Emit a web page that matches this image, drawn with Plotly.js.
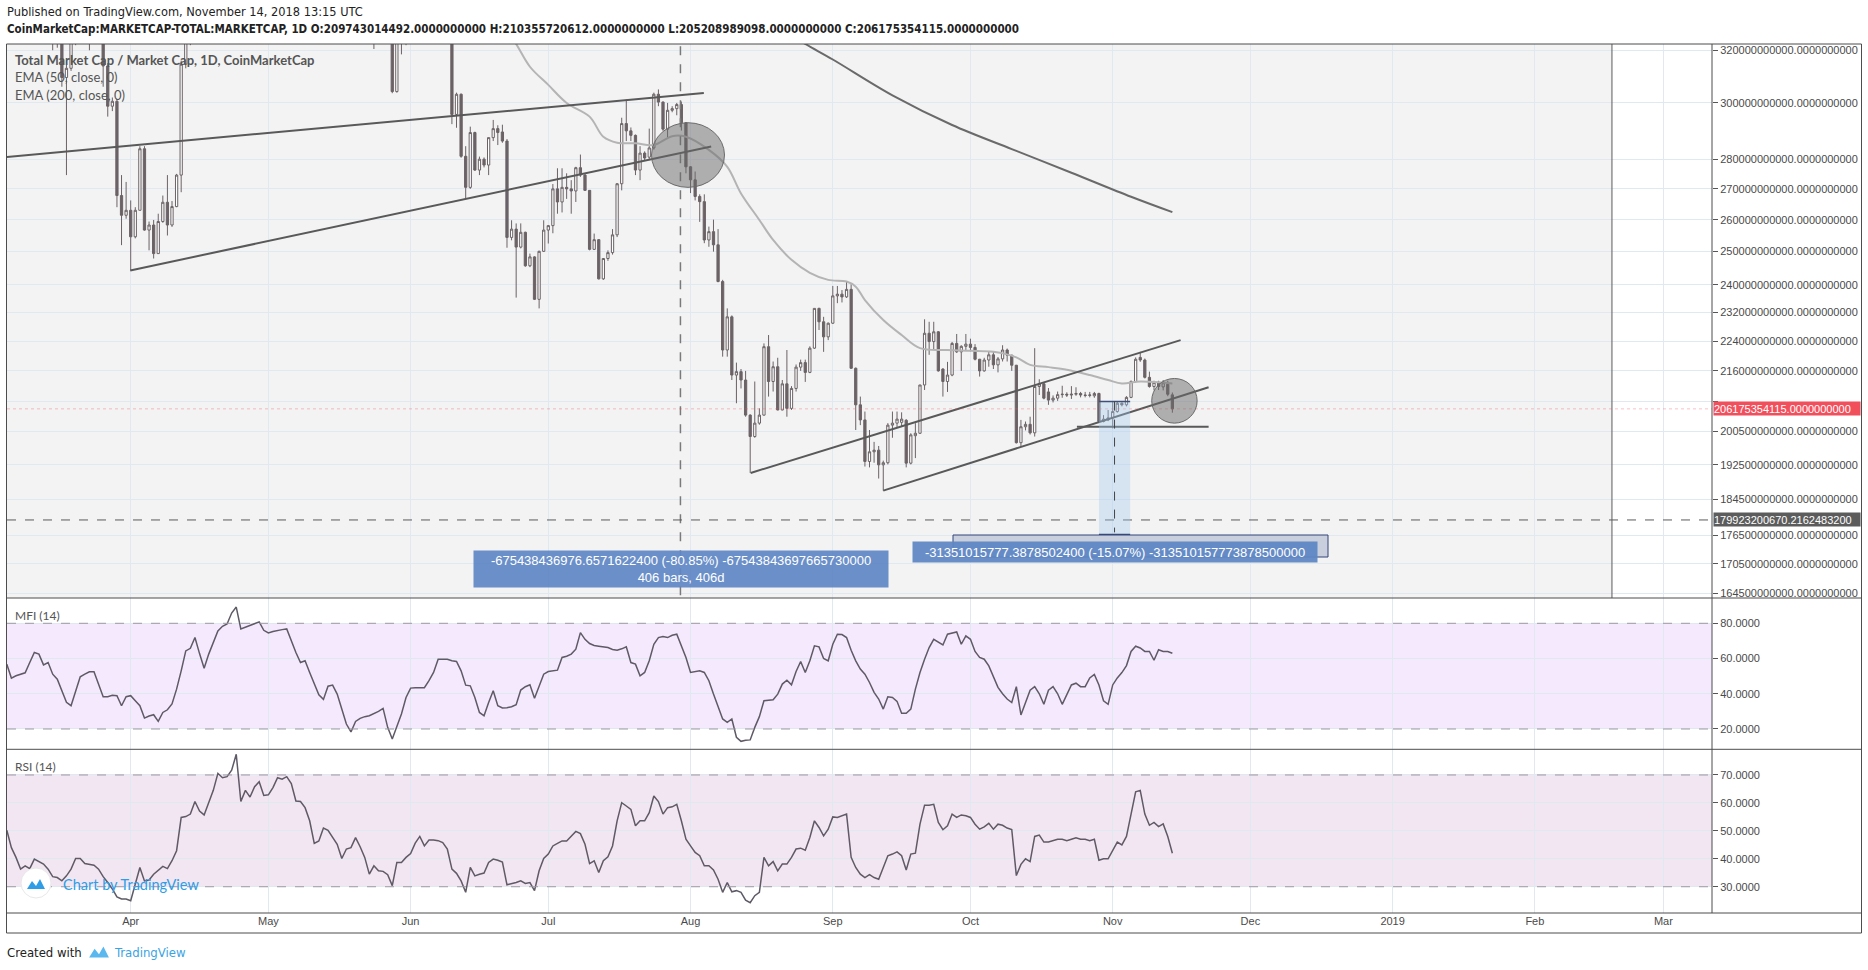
<!DOCTYPE html>
<html><head><meta charset="utf-8">
<script src="https://cdn.plot.ly/plotly-3.0.1.min.js"></script>
<style>html,body{margin:0;padding:0;background:#fff;}#chart{width:1868px;height:970px;}</style>
</head><body><div id="chart"></div>
<script>
// ---------- DATA (values in billions of USD, daily from 2018-03-05) ----------
const startDay = '2018-03-05';
const openB = [440,452,430,398,384,378,362,380,372,370,
345,335,338,309.5,313,335,347,350,335,342,
338,336,313.9,298.8,300.6,267.8,261.4,263,254.6,263,
283.6,256.7,258.3,249.4,259.4,265.6,258.3,264.2,274.6,314.6,
325,330,348,338,336,358,375,395,398,402,
415,438,398,415,408,422,432,420,410,425,
445,448,458,445,430,422,430,412,380,388,
402,400,388,385,375,382,380,396,385,365,
340,345,338,336,335,304.2,328,325,335,340,
345,350,335,343,345,344,340,338,295.8,303.2,
281,270.5,289.3,276.3,280,278,287.5,290.7,289.5,286.3,
254.4,257,251.4,256,245.7,248.4,235.8,250.1,256.7,258.1,
270,265.7,270.5,270,269.3,277.1,274.6,269.5,250.7,253.7,
241.8,247.9,249.7,255.2,271.7,292.5,289.9,288.3,276.3,282.1,
280.7,283.9,303.2,300.3,290.5,297.3,297.9,299.4,292.8,277.4,
273,267.5,265.8,253.6,256.2,252.1,241,221.6,230.8,214.9,
215.8,213.6,204.6,199.3,202.6,204.6,222.5,213.2,217.1,205.9,
212.6,206.3,211.4,217,218.2,215.6,222.1,233.2,229.4,225.2,
229,236.8,237.3,236.5,238.7,216.7,207.2,203.4,193.3,195.6,
196,192.5,193,202.1,202.6,202.8,203.3,192.9,199.5,200.1,
212.3,226.2,223.9,226.6,216.5,213.2,214.9,223.4,221.1,222.6,
223.2,222.3,219.1,216,218.9,220.3,217.6,219.2,221.6,220.2,
217.5,197.8,201.7,202.3,200.2,211.9,212.6,210.5,208.4,208.9,
209.8,209.9,209.7,209.9,210.1,209.7,209.6,209.5,210.1,203,
203.4,203.9,205.5,207.6,207.2,209.1,213.2,219.6,218.9,214.3,
211.9,213,211.8,212.5,209.743014492];
const highB = [458,453,434,405,390,385,385,392,380,373,
352,345,342,316,342,350,358,355,345,352,
345,338,315,302,301.5,274.6,272.3,266.2,264,284.5,
284.5,259.4,259.9,261.9,267.8,274.6,266,275,316,335,
337,350,350,347,360,378,398,405,410,418,
440,440,418,425,425,435,434,422,428,448,
452,462,460,447,436,432,432,414,392,405,
410,403,392,390,385,388,398,398,387,366,
350,348,345,340,337,331,334,338,342,348,
355,352,346,348,350,347,344,339,303.8,303.5,
284.5,291.4,289.6,280.9,280.6,287.5,293.8,291.9,292.1,287,
259.8,258.8,258.8,256.2,249.4,248.6,250.3,259.8,258.3,271.6,
276.9,276.9,275.2,272.9,277.4,281.6,275.2,269.6,255.6,253.9,
248,250.4,257,271.9,294.6,301.2,291.1,288.6,284.5,282.7,
290.7,303.8,305,300.6,300,298.8,300,300.5,293,277.6,
275.8,268.2,268.2,257.8,260,257,241.5,233.2,231.2,218.2,
216.5,216,204.8,213.2,206.3,223.4,225.7,218.5,219.5,213.6,
221.6,212,217.7,219,219,222.6,233.2,233.4,230.8,229.2,
239.7,239.7,238.5,241,240.2,216.9,209.3,205.5,200.9,198,
197,193.5,202.6,205.5,205.5,205.3,203.6,200.1,202.6,212.3,
230.1,229.4,229.4,226.8,216.7,218.4,223.8,226,222.9,226,
224.7,223.2,219.2,219.5,221.2,221.2,219.7,222.9,222,220.3,
217.6,203.4,203,204.2,222.1,213.8,213,211.5,209.6,210.6,
212.1,210.4,212,211.7,210.5,210.5,210.5,210.5,210.3,204.6,
205.9,208,208,207.8,209.4,213.5,219.6,221.1,219.3,215.8,
213.4,213.4,213.6,213.4,210.355720612];
const lowB = [437,420,390,378,345,358,355,365,362,340,
320,321,306,274.6,312,322,340,330,320,335,
330,306,295,297,264,252,260.3,244.3,254.1,263,
256.5,250.4,247.9,249.4,259,255,257.7,264,268.9,313,
322,329,335,333,335,356,372,388,395,398,
413,385,392,405,405,418,415,400,408,422,
438,445,440,425,418,410,410,375,372,385,
385,385,375,372,368,375,378,382,362,336,
320.5,333,332,330,303.6,303.8,318.4,322,330,336,
343,332,330,338,342,336,334,292.3,291,280.5,
266.8,270,276,274.6,277.2,274.6,286.3,284.9,285.7,251.2,
253.5,236.3,251,245.4,245.3,235.6,233.2,249.9,252.5,255.7,
261.9,262.3,266.7,261.9,265.7,274,269.3,250.4,250.6,241.6,
241.5,247.2,249.1,254.5,269.5,286.3,286.3,274.6,272.9,279.7,
279.7,283.3,298.8,289.9,287.5,296.6,295.5,290,275.2,268.6,
266.2,259.3,252.6,251.5,250,240.8,219.8,219.8,213.6,207.6,
211.4,204.2,190.6,199,202.2,204.5,209.3,210.6,205.8,205.8,
204.2,205.9,210.6,216,213.1,215.4,221.9,227.1,221.1,224.3,
228.8,234.7,234.9,236.2,216.5,200.9,202.1,192.1,191.9,193,
189.3,186.5,192.6,199,201.4,201.7,191.9,192.6,194.1,200,
211,220.3,221.8,215.8,209.3,210.5,214.6,220.8,216,221.6,
221.2,218.8,214.5,215.8,217.1,216.5,215.6,218.5,218.5,216,
197.6,196.8,200.8,199.8,199.3,209.7,208.6,207.2,207.8,208.2,
209,209.2,208.7,209.5,209.1,209.1,209.1,209,202.6,202.8,
203.1,201.3,205.2,206.8,206.8,208.9,212.9,218.4,214,211.6,
210.9,211,210.9,209.4,205.208989098];
const closeB = [452,430,398,384,378,362,380,372,370,345,
335,338,309.5,313,335,347,350,335,342,338,
336,313.9,298.8,300.6,267.8,261.4,263,254.6,263,283.6,
256.7,258.3,249.4,259.4,265.6,258.3,264.2,274.6,314.6,325,
330,348,338,336,358,375,395,398,402,415,
438,398,415,408,422,432,420,410,425,445,
448,458,445,430,422,430,412,380,388,402,
400,388,385,375,382,380,396,385,365,340,
345,338,336,335,304.2,328,325,335,340,345,
350,335,343,345,344,340,338,295.8,303.2,281,
270.5,289.3,276.3,280,278,287.5,290.7,289.3,286.3,254.4,
257,251.4,256,245.7,248.4,235.8,250.1,256.7,258.1,270,
265.7,270.5,270,269.3,277.1,274.6,269.5,250.7,253.7,241.8,
247.9,249.7,255.2,271.7,292.5,289.9,288.3,276.3,282.1,280.4,
283.9,303.2,300.3,290.5,297.3,297.9,299.4,292.8,277.4,273,
267.5,265.8,253.6,256.2,252.1,241,221.6,230.8,214.9,215.8,
213.6,204.6,199.3,202.6,204.6,222.5,213.2,217.1,205.9,212.6,
206.3,211.4,217,218.2,215.6,222.1,233.2,229.4,225.2,229,
236.8,237.3,236.5,238.7,216.7,207.2,203.4,193.3,195.6,196,
192.5,193,202.1,202.6,203.6,203.6,192.9,199.7,200.1,212.3,
226.2,223.9,226.6,216,213.2,214.9,223.4,221.1,222.6,223.2,
222.3,219.1,216,218.9,220.3,217.6,219.2,221.6,220.2,217.5,
197.8,201.7,202.3,200.2,211.9,212.6,208.9,208.4,208.9,209.8,
209.9,209.7,209.9,210.1,209.7,209.6,209.7,210.1,203,203.6,
203.9,205.5,207.6,207.2,209.1,213.2,219.1,218.9,214.3,211.9,
213,211.9,212.9,209.9,206.175354115];

// EMA lines (day index from start, value in billions)
const ema50Day = [107,111,114,118,122,127,130,133,137,141,145,148,153,157,160,164,167,171,175,179,183,185,187,191,195,199,205,210,215,220,223,227,231,236,240,243,247,254];
const ema50Val = [334,322.5,313.6,306.7,300,295,287.8,285.7,285.5,284.9,288,287.8,283.2,277.4,268.5,259.9,253.6,247.5,243.6,241.5,241,239.5,235.6,229.9,225.7,222.1,221.6,221.4,221.1,219.6,217.6,217,216.3,214.9,213.6,212.7,213.2,212.7];
const ema200Day = [170,174,180,193,206,219,232,245,254];
const ema200Val = [327,322.5,316.4,302.8,292,283.5,275.4,267.4,262.4];

// MFI (14) and RSI (14), daily
const mfi = [56.8,48.9,50.2,51.1,51.9,57.7,63.4,62.5,56.4,57.7,
51.1,48.3,41.7,35.1,33.2,41.7,49.6,51.1,52.5,52.5,
45.8,38.3,38.3,39.1,38.9,33.2,38.3,38.9,36.0,33.2,
26.2,27.4,28.1,24.3,29.4,30.9,34.2,42.6,53.0,64.3,
65.8,71.9,62.8,54.5,62.5,69.6,75.7,78.3,79.6,85.8,
89.2,76.8,77.7,78.7,79.6,80.8,76.0,74.5,75.3,76.0,
76.4,76.8,70.0,63.4,57.7,58.7,52.1,45.5,39.4,36.8,
44.3,44.9,39.8,31.3,22.8,18.3,24.3,26.0,27.0,27.5,
28.7,30.0,31.7,20.9,14.3,20.9,28.5,37.9,43.2,43.4,
43.2,43.4,47.4,52.1,59.6,59.8,59.6,58.7,58.3,53.0,
44.9,44.5,37.9,29.4,27.5,35.1,41.7,33.2,31.9,32.1,
32.6,33.8,42.1,44.0,45.1,37.5,44.5,51.1,52.6,53.0,
53.4,60.6,61.3,62.5,65.3,74.7,70.9,68.5,67.4,67.0,
66.8,66.2,65.1,64.7,65.5,66.6,57.7,56.8,50.2,52.1,
58.7,68.1,71.9,72.5,71.9,73.2,73.8,67.2,60.6,52.1,
52.5,53.0,52.1,47.4,39.8,33.2,25.7,23.8,25.7,15.3,
13.0,13.6,13.8,20.9,27.0,36.0,36.4,36.6,39.8,45.5,
47.7,45.1,52.6,58.3,52.1,58.7,67.2,66.6,60.0,58.7,
68.1,73.8,73.6,71.9,64.7,58.7,54.0,51.1,46.4,40.8,
37.0,31.3,38.3,37.9,35.7,28.9,28.9,31.3,42.6,52.1,
59.6,66.2,70.9,69.1,67.7,73.8,74.5,75.1,68.1,72.8,
70.9,64.0,60.6,59.6,55.8,50.2,43.6,40,37,35,
44,28,35,42,44,40,34,42,44,40,
34,40,45,46,44,44,49,51,45,36,
34,45,49,52,56,64,67,66,64,64,
59,65,64,64,63];
const rsi = [50.2,44.0,40.5,36.3,37.5,36.5,39.9,38.9,38.1,36.3,
33.6,33.3,32.1,33.9,36.3,40.1,40.1,38.3,38.1,37.7,
36.3,33.6,31.5,29.2,26.4,25.6,25.6,25.0,31.0,36.9,
32.1,32.4,34.5,36.0,37.3,36.5,39.3,42.9,54.8,55.1,
56.0,60.5,57.1,55.7,60.4,64.5,70.6,69.0,69.4,71.7,
77.4,60.5,64.5,62.1,65.8,67.6,62.7,62.9,65.5,69.0,
68.5,69.4,66.9,60.7,60.5,58.3,53.6,45.5,46.4,51.0,
50.2,47.9,45.2,40.1,43.5,44.0,47.6,44.3,40.5,34.5,
37.5,35.7,35.5,34.3,30.4,38.7,38.7,40.5,41.9,45.6,
48.0,44.6,46.7,46.7,46.5,45.8,43.5,36.3,34.8,32.1,
28.0,36.9,33.9,34.5,34.9,38.7,39.9,39.5,38.8,30.7,
31.0,31.5,32.1,31.2,31.5,28.6,35.7,40.1,41.7,44.6,
45.5,46.4,46.4,48.2,49.8,49.0,45.2,38.3,39.3,35.1,
39.3,40.7,44.6,53.6,60.1,58.9,57.7,51.8,53.6,53.6,
56.5,62.5,60.5,56.0,58.3,58.6,59.5,53.6,47.0,44.6,
42.3,41.1,37.5,37.5,36.0,32.7,28.0,31.5,28.2,28.6,
28.0,25.2,24.3,26.8,28.0,40.5,37.5,39.0,35.7,38.1,
38.1,40.5,43.5,43.8,43.1,47.6,53.6,51.2,48.2,50.6,
55.0,54.8,55.4,56.0,40.5,36.9,34.5,33.3,34.3,33.3,
32.7,36.9,41.1,41.7,42.5,41.1,36.0,41.7,42.0,52.4,
59.2,59.2,59.5,53.0,50.4,51.8,56.0,54.8,55.7,55.4,
54.8,52.4,50.6,51.4,52.7,50.6,52.4,52,51,50.5,
34,38,40,39,48,48.5,46,46,46.5,47,
47,46.5,47,47.5,47,47,46.5,47,39.5,40,
40,43,46,45,48,56,64,64.5,56,52,
53,51.5,52.5,48,42];

// price axis ticks (billions; 208 sits under the last-price label), indicator ticks, month ticks
const priceTicksB = [320,300,280,270,260,250,240,232,224,216,208,200.5,192.5,184.5,176.5,170.5,164.5];
const hiddenTickB = 208;
const mfiTicks = [20,40,60,80];
const rsiTicks = [30,40,50,60,70];
const monthTickDates = ['2018-04-01','2018-05-01','2018-06-01','2018-07-01','2018-08-01','2018-09-01','2018-10-01','2018-11-01','2018-12-01','2019-01-01','2019-02-01','2019-03-01'];
const monthTickText = ['Apr','May','Jun','Jul','Aug','Sep','Oct','Nov','Dec','2019','Feb','Mar'];

// drawings (day index, value in billions)
const wedgeUpper = {d:[-0.5,151.9], v:[280.7,303.7]};
const wedgeLower = {d:[26.9,153.5], v:[244.3,284.4]};
const chanUpper = {d:[162.1,255.8], v:[190.6,224.3]};
const chanLower = {d:[191,261.9], v:[186.5,211.7]};
const flatLine  = {d:[233.2,261.9], v:[201.7,201.7]};
const hLineB = 179.9232006702162483;
const lastPriceB = 206.175354115;
const range1 = {endDay:349.8, midDay:146.8};
const range2 = {d0:238.0, d1:244.8, top:208.024, bottom:176.673};
const ellipse1 = {d0:140.5, d1:156.4, v0:270.5, v1:292.8};
const ellipse2 = {d0:249.5, d1:259.4, v0:202.6, v1:214.0};

// ---------- helpers ----------
const B = 1e9;
const START = Date.UTC(2018,2,5), DAY = 86400000;
const dstr = f => new Date(START + f*DAY).toISOString().slice(0,19).replace('T',' ');
const dates = openB.map((_,i)=>dstr(i).slice(0,10));
const PL=7, PR=1712, PT=44, PB=913;
const px = x => (x-PL)/(PR-PL);
const py = y => (PB-y)/(PB-PT);
const fmt = v => Math.round(v*B).toFixed(10);

const candleCol = '#6b6266';
const traces = [];
traces.push({type:'candlestick', x:dates, open:openB.map(v=>v*B), high:highB.map(v=>v*B), low:lowB.map(v=>v*B), close:closeB.map(v=>v*B),
  xaxis:'x', yaxis:'y', whiskerwidth:0, hoverinfo:'none', showlegend:false,
  increasing:{line:{color:candleCol,width:1}, fillcolor:'#ffffff'},
  decreasing:{line:{color:candleCol,width:1}, fillcolor:candleCol}});
traces.push({type:'scatter', mode:'lines', x:ema50Day.map(dstr), y:ema50Val.map(v=>v*B), line:{color:'#b4b4b4', width:2, shape:'spline'}, hoverinfo:'none', showlegend:false});
traces.push({type:'scatter', mode:'lines', x:ema200Day.map(dstr), y:ema200Val.map(v=>v*B), line:{color:'#6a6a6a', width:2, shape:'spline'}, hoverinfo:'none', showlegend:false});
[wedgeUpper, wedgeLower, chanUpper, chanLower, flatLine].forEach(l=>{
  traces.push({type:'scatter', mode:'lines', x:l.d.map(dstr), y:l.v.map(v=>v*B), line:{color:'#595959', width:2}, hoverinfo:'none', showlegend:false});
});
traces.push({type:'scatter', mode:'lines', x:dates, y:mfi, xaxis:'x', yaxis:'y2', line:{color:'#5f5a66', width:1.5}, hoverinfo:'none', showlegend:false});
traces.push({type:'scatter', mode:'lines', x:dates, y:rsi, xaxis:'x', yaxis:'y3', line:{color:'#5f5a66', width:1.5}, hoverinfo:'none', showlegend:false});

const axFont = {family:'Liberation Sans, Arial, sans-serif', size:11, color:'#4a4a4a'};
const gridCol = '#e1e9f0';
const yCommon = {side:'right', anchor:'x', showgrid:true, gridcolor:gridCol, zeroline:false, showline:false, ticks:'outside', ticklen:5, tickcolor:'#555', tickfont:axFont, fixedrange:true, tickmode:'array'};

const shapes = [];
shapes.push({type:'rect', xref:'x', yref:'y domain', x0:dstr(-40), x1:dstr(range1.endDay), y0:0, y1:1, fillcolor:'#f3f3f3', line:{width:0}, layer:'below'});
shapes.push({type:'line', xref:'x', yref:'y domain', x0:dstr(range1.endDay), x1:dstr(range1.endDay), y0:0, y1:1, line:{color:'#5a5a5a', width:1}});
shapes.push({type:'line', xref:'x', yref:'y domain', x0:dstr(range1.midDay), x1:dstr(range1.midDay), y0:0.005, y1:1, line:{color:'#7a7a7a', width:1.5, dash:'dash'}});
shapes.push({type:'rect', xref:'paper', yref:'y2', x0:0, x1:1, y0:20, y1:80, fillcolor:'#f5e9fd', line:{width:0}, layer:'below'});
shapes.push({type:'rect', xref:'paper', yref:'y3', x0:0, x1:1, y0:30, y1:70, fillcolor:'#f2e6f2', line:{width:0}, layer:'below'});
[[20,'y2'],[80,'y2'],[30,'y3'],[70,'y3']].forEach(([v,r])=>shapes.push({type:'line', xref:'paper', yref:r, x0:0, x1:1, y0:v, y1:v, line:{color:'#9d98a3', width:1, dash:'dash'}}));
shapes.push({type:'line', xref:'paper', yref:'y', x0:0, x1:1, y0:hLineB*B, y1:hLineB*B, line:{color:'#5a5a5a', width:1, dash:'dash'}});
shapes.push({type:'line', xref:'paper', yref:'y', x0:0, x1:1, y0:lastPriceB*B, y1:lastPriceB*B, line:{color:'rgba(240,80,95,0.35)', width:1, dash:'dot'}});
shapes.push({type:'rect', xref:'x', yref:'y', x0:dstr(range2.d0), x1:dstr(range2.d1), y0:range2.bottom*B, y1:range2.top*B, fillcolor:'rgba(160,200,240,0.35)', line:{width:0}});
shapes.push({type:'line', xref:'x', yref:'y', x0:dstr(range2.d0), x1:dstr(range2.d1), y0:range2.top*B, y1:range2.top*B, line:{color:'#3d4f7a', width:1.5}});
shapes.push({type:'line', xref:'x', yref:'y', x0:dstr(range2.d0), x1:dstr(range2.d1), y0:range2.bottom*B, y1:range2.bottom*B, line:{color:'#3d4f7a', width:2}});
const midD = (range2.d0+range2.d1)/2;
shapes.push({type:'line', xref:'x', yref:'y', x0:dstr(midD), x1:dstr(midD), y0:range2.top*B, y1:range2.bottom*B*1.003, line:{color:'#444', width:1, dash:'dash'}});
[ellipse1, ellipse2].forEach(e=>shapes.push({type:'circle', xref:'x', yref:'y', x0:dstr(e.d0), x1:dstr(e.d1), y0:e.v0*B, y1:e.v1*B, fillcolor:'rgba(105,105,105,0.5)', line:{color:'#6a6a6a', width:1}}));
shapes.push({type:'rect', xref:'paper', yref:'paper', x0:px(953), x1:px(1328), y0:py(557), y1:py(535), fillcolor:'#c9cfdc', line:{color:'#32457a', width:1}});
const frame = {color:'#4d4d4d', width:1};
shapes.push({type:'rect', xref:'paper', yref:'paper', x0:px(6.5), x1:px(1861.5), y0:py(933), y1:py(44), line:frame});
shapes.push({type:'line', xref:'paper', yref:'paper', x0:1, x1:1, y0:0, y1:1, line:frame});
[598, 749.3, 913].forEach(y=>shapes.push({type:'line', xref:'paper', yref:'paper', x0:px(6.5), x1:px(1861.5), y0:py(y), y1:py(y), line:frame}));
shapes.push({type:'circle', xref:'paper', yref:'paper', x0:px(21), x1:px(51), y0:py(898), y1:py(868), fillcolor:'#ffffff', line:{color:'#e8e8e8', width:1}});
const mountain = (cx,cy,s)=>`M ${px(cx-9*s)},${py(cy+5*s)} L ${px(cx-4*s)},${py(cy-3*s)} L ${px(cx)},${py(cy+2*s)} L ${px(cx+4*s)},${py(cy-5*s)} L ${px(cx+9*s)},${py(cy+5*s)} Z`;
shapes.push({type:'path', xref:'paper', yref:'paper', path:mountain(36,884,1), fillcolor:'#2f9de6', line:{width:0}});
shapes.push({type:'path', xref:'paper', yref:'paper', path:mountain(99,952,1.1), fillcolor:'#5ab8ee', line:{width:0}});

const ann = [];
const txt = (x,y,text,font,extra={}) => ann.push(Object.assign({xref:'paper', yref:'paper', x:px(x), y:py(y), text, showarrow:false, xanchor:'left', yanchor:'middle', font}, extra));
const hdrFam = 'Liberation Sans Narrow, DejaVu Sans Condensed, Roboto, sans-serif';
txt(5, 11, 'Published on TradingView.com, November 14, 2018 13:15 UTC', {family:hdrFam, size:12.7, color:'#222'});
txt(5, 28.5, '<b>CoinMarketCap:MARKETCAP-TOTAL:MARKETCAP, 1D O:'+fmt(openB[254])+' H:'+fmt(highB[254])+' L:'+fmt(lowB[254])+' C:'+fmt(closeB[254])+'</b>', {family:hdrFam, size:11.5, color:'#222'});
const legFont = {family:'Lato, Open Sans, sans-serif', size:13, color:'#555'};
txt(13, 60, '<b>Total Market Cap / Market Cap, 1D, CoinMarketCap</b>', legFont);
txt(13, 77, 'EMA (50, close, 0)', legFont);
txt(13, 94.5, 'EMA (200, close, 0)', legFont);
txt(13, 615, 'MFI (14)', Object.assign({}, legFont, {size:12}));
txt(13, 766, 'RSI (14)', Object.assign({}, legFont, {size:12}));
ann.push({xref:'paper', yref:'paper', x:px(681), y:py(569.5), xanchor:'center', yanchor:'middle', showarrow:false,
  text:'-675438436976.6571622400 (-80.85%) -67543843697665730000<br>406 bars, 406d', align:'center',
  font:{family:'Liberation Sans, Arial, sans-serif', size:13, color:'#ffffff'}, bgcolor:'rgba(96,135,196,0.93)', width:412, height:34, borderpad:1});
ann.push({xref:'paper', yref:'paper', x:px(1114.5), y:py(552), xanchor:'center', yanchor:'middle', showarrow:false,
  text:'-31351015777.3878502400 (-15.07%) -313510157773878500000', align:'center',
  font:{family:'Liberation Sans, Arial, sans-serif', size:13, color:'#ffffff'}, bgcolor:'rgba(96,135,196,0.95)', width:402, height:18, borderpad:1});
ann.push({xref:'paper', yref:'y', x:px(1713), y:Math.log10(lastPriceB*B), xanchor:'left', yanchor:'middle', showarrow:false, text:fmt(lastPriceB),
  font:{family:'Liberation Sans, Arial, sans-serif', size:11, color:'#ffffff'}, bgcolor:'#f24f5c', width:146, height:13, align:'left', borderpad:0});
ann.push({xref:'paper', yref:'y', x:px(1713), y:Math.log10(hLineB*B), xanchor:'left', yanchor:'middle', showarrow:false, text:'179923200670.2162483200',
  font:{family:'Liberation Sans, Arial, sans-serif', size:11, color:'#ffffff'}, bgcolor:'#5c5c5c', width:146, height:13, align:'left', borderpad:0});
txt(61, 884, 'Chart by TradingView', {family:'Lato, Open Sans, sans-serif', size:14.5, color:'#2f9de6'});
txt(5, 952, 'Created with', {family:hdrFam, size:13, color:'#222'});
txt(112, 952, 'TradingView', {family:hdrFam, size:13, color:'#3aa3e3'});

const layout = {
  width:1868, height:970, margin:{l:PL, r:1868-PR, t:PT, b:970-PB}, paper_bgcolor:'#ffffff', plot_bgcolor:'#ffffff',
  showlegend:false, dragmode:false,
  xaxis:{type:'date', anchor:'y3', domain:[0,1], range:['2018-03-05 01:00','2019-03-11 14:24'], rangeslider:{visible:false},
    tickmode:'array', tickvals:monthTickDates, ticktext:monthTickText, showgrid:true, gridcolor:gridCol, zeroline:false, showline:false, ticks:'', tickfont:axFont, fixedrange:true},
  yaxis:Object.assign({}, yCommon, {type:'log', domain:[0.3625,1], range:[Math.log10(163.51e9), Math.log10(322.47e9)], tickvals:priceTicksB.map(v=>v*B), ticktext:priceTicksB.map(v=>v===hiddenTickB?'':fmt(v))}),
  yaxis2:Object.assign({}, yCommon, {domain:[0.1884,0.3625], range:[8.48,94.36], tickvals:mfiTicks, ticktext:mfiTicks.map(v=>v.toFixed(4))}),
  yaxis3:Object.assign({}, yCommon, {domain:[0,0.1884], range:[20.6,79.2], tickvals:rsiTicks, ticktext:rsiTicks.map(v=>v.toFixed(4))}),
  shapes, annotations:ann
};
Plotly.newPlot('chart', traces, layout, {staticPlot:true, displayModeBar:false});
</script></body></html>
